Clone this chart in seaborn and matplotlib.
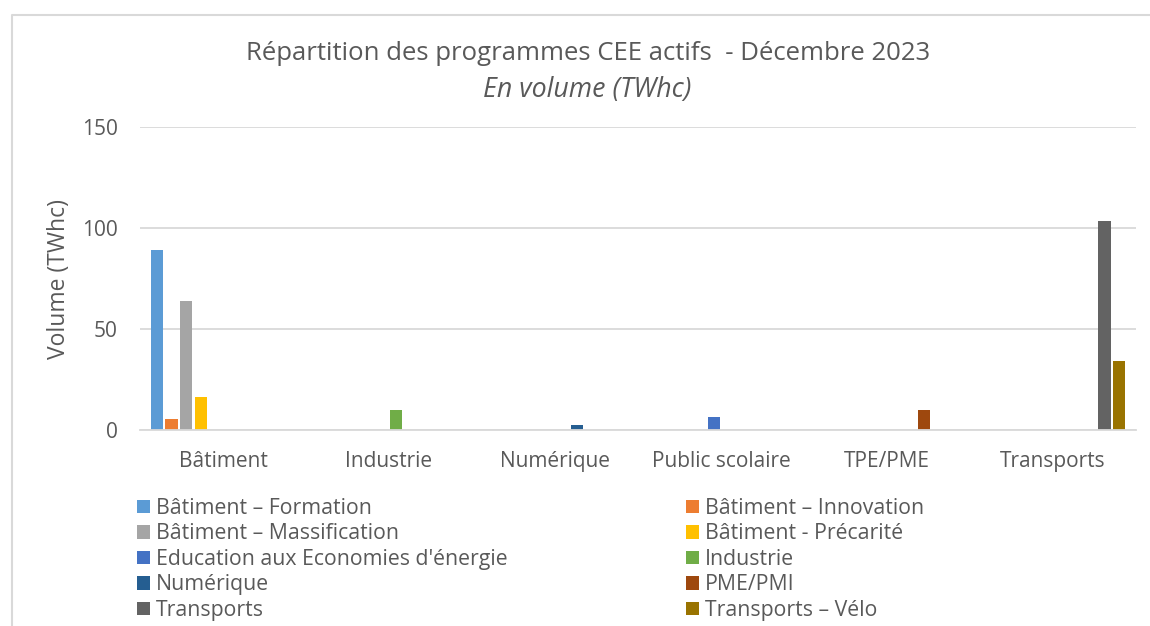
import matplotlib
matplotlib.use("Agg")
import matplotlib.pyplot as plt
from matplotlib.lines import Line2D
from matplotlib.patches import Patch
import pandas as pd
import seaborn as sns

categories = ["Bâtiment", "Industrie", "Numérique", "Public scolaire", "TPE/PME", "Transports"]
series = [
    "Bâtiment – Formation",
    "Bâtiment – Innovation",
    "Bâtiment – Massification",
    "Bâtiment - Précarité",
    "Education aux Economies d'énergie",
    "Industrie",
    "Numérique",
    "PME/PMI",
    "Transports",
    "Transports – Vélo",
]
# category of each programme and its volume (TWhc)
series_category = ["Bâtiment", "Bâtiment", "Bâtiment", "Bâtiment", "Public scolaire",
                   "Industrie", "Numérique", "TPE/PME", "Transports", "Transports"]
series_values = [89, 5.5, 64, 16.5, 6.5, 10, 2.5, 10, 103.5, 34]
colors = ["#5B9BD5", "#ED7D31", "#A5A5A5", "#FFC000", "#4472C4",
          "#70AD47", "#255E91", "#9E480E", "#636363", "#997300"]
yticks = [0, 50, 100, 150]

rows = []
for cat in categories:
    for s, c, v in zip(series, series_category, series_values):
        rows.append({"cat": cat, "serie": s, "val": v if c == cat else 0.0})
df = pd.DataFrame(rows)

sns.set_theme(style="white")
plt.rcParams["font.family"] = ["Open Sans", "DejaVu Sans"]
TXT = "#595959"
GRID = "#D9D9D9"

fig = plt.figure(figsize=(11.5, 6.26), dpi=100)
ax = fig.add_axes([140 / 1150, 1 - 430 / 626, 996 / 1150, 303 / 626])

sns.barplot(data=df, x="cat", y="val", hue="serie", order=categories,
            hue_order=series, palette=colors, width=0.886, gap=0.18,
            errorbar=None, saturation=1, ax=ax, legend=False, linewidth=0)

ax.set_ylim(0, 150)
ax.set_yticks(yticks)
ax.set_xlim(-0.5, len(categories) - 0.5)
ax.yaxis.grid(True, color=GRID, linewidth=1.3)
ax.set_axisbelow(True)
for side in ["top", "right", "left"]:
    ax.spines[side].set_visible(False)
ax.spines["bottom"].set_color(GRID)
ax.spines["bottom"].set_linewidth(1.3)
ax.tick_params(axis="both", length=0, labelsize=15, labelcolor=TXT)
ax.tick_params(axis="y", pad=16)
ax.tick_params(axis="x", pad=15)
ax.set_xlabel("")
ax.set_ylabel("")
fig.text(59 / 1150, 1 - 279 / 626, "Volume (TWhc)", rotation=90, ha="center",
         va="center", fontsize=16.5, color=TXT)

fig.text(0.511, 1 - 53 / 626, "Répartition des programmes CEE actifs  - Décembre 2023",
         ha="center", va="center", fontsize=18.5, color=TXT)
fig.text(0.511, 1 - 90 / 626, "En volume (TWhc)", ha="center", va="center",
         fontsize=19.3, color=TXT, style="italic")

handles = [Patch(facecolor=c, edgecolor="none", label=s) for s, c in zip(series, colors)]
order = [0, 2, 4, 6, 8, 1, 3, 5, 7, 9]
fig.legend([handles[i] for i in order], [series[i] for i in order], ncol=2,
           loc="upper left", bbox_to_anchor=(137 / 1150, 1 - 498 / 626),
           frameon=False, fontsize=15.3, labelcolor=TXT, handlelength=0.61,
           handleheight=0.61, handletextpad=0.28, labelspacing=0.21,
           columnspacing=8.4, borderpad=0, borderaxespad=0)

# outer chart frame
fig.add_artist(Line2D([12 / 1150, 12 / 1150, 1.0], [0, 1 - 15 / 626, 1 - 15 / 626],
                      transform=fig.transFigure, color=GRID, linewidth=1.5))

fig.savefig("out.png", dpi=100)
